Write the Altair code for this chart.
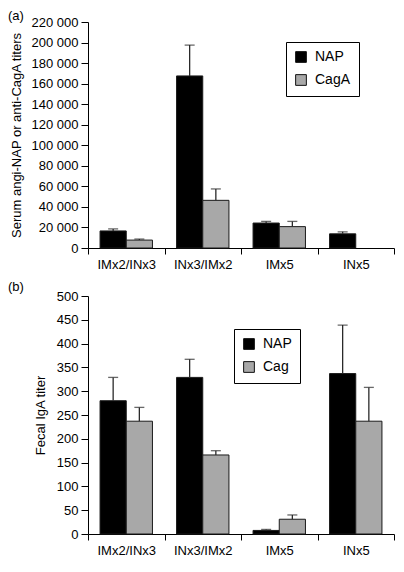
import altair as alt
import pandas as pd

FONT = "Liberation Sans"

groups = ["IMx2/INx3", "INx3/IMx2", "IMx5", "INx5"]

# Panel (a): serum titers
serum_series = ["NAP", "CagA"]
serum_nap = [16600, 167500, 24300, 13800]
serum_nap_upper = [18600, 197500, 25900, 15700]
serum_caga = [7700, 46400, 20800, None]
serum_caga_upper = [8700, 57500, 25900, None]
serum_ticks = [0, 20000, 40000, 60000, 80000, 100000, 120000, 140000, 160000, 180000, 200000, 220000]

# Panel (b): fecal IgA titers
fecal_series = ["NAP", "Cag"]
fecal_nap = [280, 329, 7.5, 337]
fecal_nap_upper = [329, 367, 9.6, 439]
fecal_cag = [237, 166, 31, 237]
fecal_cag_upper = [266, 175, 40, 308]
fecal_ticks = [0, 50, 100, 150, 200, 250, 300, 350, 400, 450, 500]


def build_df(series, vals_list, upper_list):
    rows = []
    for s, vals, ups in zip(series, vals_list, upper_list):
        for g, v, u in zip(groups, vals, ups):
            if v is None:
                continue
            rows.append({"group": g, "series": s, "value": v, "upper": u})
    return pd.DataFrame(rows)


df_a = build_df(serum_series, [serum_nap, serum_caga], [serum_nap_upper, serum_caga_upper])
df_b = build_df(fecal_series, [fecal_nap, fecal_cag], [fecal_nap_upper, fecal_cag_upper])


def panel(df, series, ymax, ticks, ytitle, width, height, label, label_y,
          lx, ly, title_pad, fmt_expr):
    x = alt.X("group:N", sort=groups,
              scale=alt.Scale(paddingInner=0, paddingOuter=0),
              axis=alt.Axis(title=None, tickBand="extent",
                            labelAngle=0, labelFont=FONT, labelFontSize=13,
                            labelColor="black", domainColor="black",
                            tickColor="black", tickSize=6, labelPadding=4,
                            domainWidth=1, tickWidth=1))
    xo = alt.XOffset("series:N", sort=series,
                     scale=alt.Scale(paddingInner=0, paddingOuter=0.46))
    axis_kw = dict(values=ticks, title=ytitle, titleFont=FONT, titleFontSize=13,
                   titleFontWeight="normal", titleColor="black",
                   titlePadding=title_pad, labelFont=FONT, labelFontSize=13,
                   labelColor="black", domainColor="black", tickColor="black",
                   tickSize=7, labelPadding=3, grid=False, domainWidth=1,
                   tickWidth=1, labelOverlap=False)
    if fmt_expr:
        axis_kw["labelExpr"] = fmt_expr
    yscale = alt.Scale(domain=[0, ymax], nice=False)
    y_val = alt.Y("value:Q", scale=yscale, axis=alt.Axis(**axis_kw))
    y_up = alt.Y("upper:Q", scale=yscale, axis=alt.Axis(**axis_kw))
    color = alt.Color("series:N", sort=series,
                      scale=alt.Scale(domain=series, range=["#000000", "#a8a8a8"]),
                      legend=alt.Legend(title=None, orient="none", legendX=lx, legendY=ly,
                                        strokeColor="black", fillColor="white",
                                        padding=8, symbolType="square", symbolSize=115,
                                        symbolStrokeColor="#111", symbolStrokeWidth=1,
                                        labelFont=FONT, labelFontSize=14,
                                        labelColor="black", rowPadding=7,
                                        labelOffset=7))
    base = alt.Chart(df)
    bars = base.mark_bar(stroke="#1a1a1a", strokeWidth=1).encode(
        x=x, xOffset=xo, y=y_val, color=color)
    whisker = base.mark_rule(color="#2a2a2a", strokeWidth=1.3).encode(
        x=x, xOffset=xo, y=y_val, y2="upper:Q")
    cap = base.mark_tick(color="#2a2a2a", thickness=1.3, size=10,
                         orient="horizontal").encode(x=x, xOffset=xo, y=y_up)
    tag = alt.Chart(pd.DataFrame({"t": [label]})).mark_text(
        align="left", baseline="top", font=FONT, fontSize=13, color="black"
    ).encode(text="t:N", x=alt.value(-80), y=alt.value(label_y))
    return alt.layer(bars, whisker, cap, tag).properties(width=width, height=height)


chart_a = panel(df_a, serum_series, 220000, serum_ticks,
                "Serum angi-NAP or anti-CagA titers", 306, 226, "(a)", -12,
                198, 20, 8,
                "replace(format(datum.value, ','), ',', ' ')")
chart_b = panel(df_b, fecal_series, 500, fecal_ticks, "Fecal IgA titer",
                306, 238, "(b)", -15, 146, 33, 9, None)

chart = alt.vconcat(chart_a, chart_b, spacing=10).resolve_scale(
    color="independent", xOffset="independent"
).configure_view(stroke=None).properties(
    padding={"left": 0, "top": 2, "right": 0, "bottom": 0}, background="white")

chart.save("out.html", embed_options={"renderer": "svg", "actions": False})
